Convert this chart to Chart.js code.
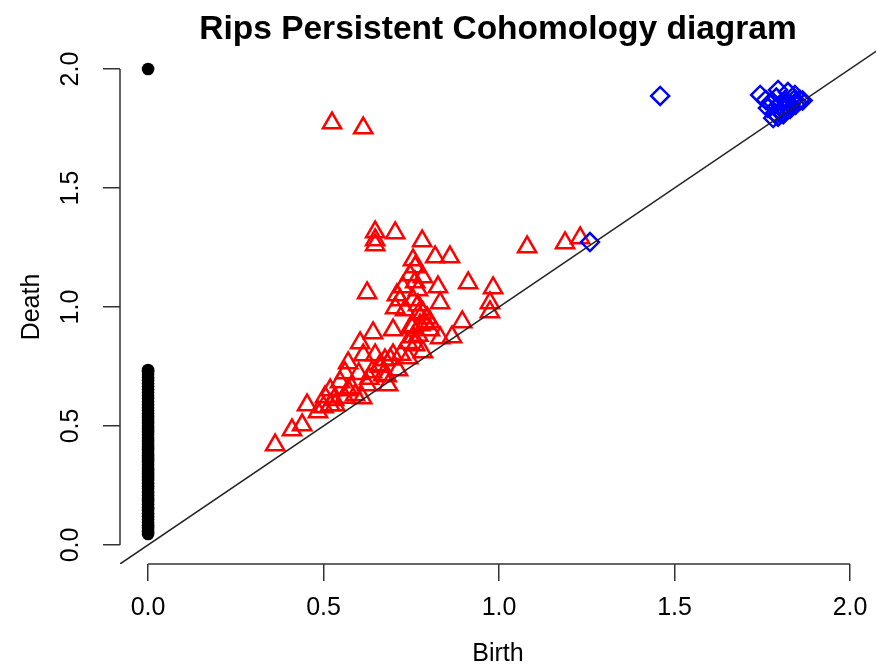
<!DOCTYPE html>
<html><head><meta charset="utf-8">
<script src="https://cdn.jsdelivr.net/npm/chart.js@4.4.1/dist/chart.umd.min.js"></script>
<style>html,body{margin:0;padding:0;background:#fff;}#wrap{width:876px;height:667px;}</style>
</head><body><div id="wrap"><canvas id="c" width="876" height="667"></canvas></div>
<script>
// ---- data ----
const chartTitle = 'Rips Persistent Cohomology diagram';
const xTitle = 'Birth';
const yTitle = 'Death';
const tickValues = [0, 0.5, 1.0, 1.5, 2.0];
const tickLabels = ['0.0', '0.5', '1.0', '1.5', '2.0'];

// dimension 0 (black dots), all born at 0
const dim0Birth = 0;
const dim0Death = [0.046, 0.058, 0.071, 0.083, 0.094, 0.108, 0.121, 0.133, 0.147, 0.158,
  0.171, 0.185, 0.196, 0.209, 0.222, 0.236, 0.247, 0.259, 0.273, 0.286, 0.298, 0.311,
  0.323, 0.337, 0.349, 0.361, 0.374, 0.388, 0.399, 0.412, 0.425, 0.437, 0.451, 0.463,
  0.475, 0.488, 0.501, 0.513, 0.526, 0.538, 0.552, 0.564, 0.577, 0.589, 0.602, 0.615,
  0.627, 0.641, 0.653, 0.666, 0.679, 0.692, 0.704, 0.716, 0.727, 0.735, 2.0];

// dimension 1 (red triangles)
const dim1Birth = [0.647, 0.647, 0.647, 0.704, 0.781, 0.755, 0.818, 0.860, 0.761, 0.783,
  0.761, 0.726, 0.826, 0.912, 0.624, 0.709, 0.755, 0.832, 0.704, 0.732,
  0.783, 0.795, 0.983, 0.974, 0.974, 0.895, 0.698, 0.752, 0.755, 0.641,
  0.604, 0.832, 0.866, 0.783, 0.741, 0.698, 0.675, 0.647, 0.613, 0.570,
  0.561, 0.670, 0.684, 0.624, 0.570, 0.519, 0.504, 0.533, 0.453, 0.484,
  0.610, 0.439, 0.410, 0.362, 0.524, 0.613, 1.080, 1.188, 1.231,
  0.547, 0.590, 0.519, 0.638, 0.712, 0.661, 0.761, 0.775, 0.803, 0.803,
  0.769, 0.746, 0.769, 0.718,
  0.580, 0.600, 0.630, 0.660, 0.690, 0.720, 0.740, 0.770, 0.790, 0.770,
  0.750, 0.680, 0.560, 0.530, 0.500];
const dim1Death = [1.315, 1.282, 1.261, 1.311, 1.277, 1.197, 1.210, 1.210, 1.168, 1.126,
  1.105, 1.084, 1.084, 1.101, 1.059, 1.050, 1.029, 1.017, 0.996, 0.987,
  0.975, 0.954, 1.080, 1.017, 0.979, 0.937, 0.903, 0.912, 0.874, 0.891,
  0.849, 0.870, 0.874, 0.811, 0.786, 0.798, 0.777, 0.798, 0.798, 0.765,
  0.723, 0.714, 0.672, 0.672, 0.651, 0.651, 0.622, 0.588, 0.588, 0.559,
  0.618, 0.504, 0.483, 0.420, 1.773, 1.752, 1.252, 1.269, 1.290,
  0.685, 0.630, 0.588, 0.727, 0.735, 0.756, 0.840, 0.924, 0.937, 0.903,
  1.008, 1.134, 1.071, 1.029,
  0.660, 0.720, 0.700, 0.750, 0.780, 0.800, 0.850, 0.880, 0.930, 0.970,
  0.920, 0.710, 0.620, 0.610, 0.580];

// dimension 2 (blue diamonds)
const dim2Birth = [1.259, 1.459, 1.744, 1.772, 1.795, 1.823, 1.843, 1.858, 1.809, 1.786,
  1.829, 1.795, 1.865, 1.766, 1.815, 1.845, 1.781,
  1.790, 1.800, 1.820, 1.830, 1.800, 1.820, 1.840, 1.850, 1.810, 1.780, 1.760];
const dim2Death = [1.273, 1.887, 1.891, 1.857, 1.912, 1.903, 1.891, 1.870, 1.836, 1.815,
  1.832, 1.800, 1.868, 1.836, 1.870, 1.850, 1.794,
  1.880, 1.850, 1.860, 1.850, 1.820, 1.840, 1.870, 1.860, 1.810, 1.860, 1.870];

// diagonal death = birth
const diagonalVals = [-0.08, 2.08];

// ---- build ----
const pts = (bx, dy) => dy.map((d, i) => ({x: Array.isArray(bx) ? bx[i] : bx, y: d}));

const axisLines = {
  id: 'axisLines',
  afterDraw(chart) {
    const {ctx, chartArea, scales: {x, y}} = chart;
    ctx.save();
    ctx.strokeStyle = '#333';
    ctx.lineWidth = 1.5;
    ctx.beginPath();
    ctx.moveTo(x.getPixelForValue(tickValues[0]), chartArea.bottom);
    ctx.lineTo(x.getPixelForValue(tickValues[tickValues.length - 1]), chartArea.bottom);
    ctx.moveTo(chartArea.left, y.getPixelForValue(tickValues[0]));
    ctx.lineTo(chartArea.left, y.getPixelForValue(tickValues[tickValues.length - 1]));
    ctx.stroke();
    ctx.restore();
  }
};

const font = 'Liberation Sans, Arial, Helvetica, sans-serif';

new Chart(document.getElementById('c'), {
  type: 'scatter',
  data: {
    datasets: [
      {
        label: 'diagonal',
        data: diagonalVals.map(v => ({x: v, y: v})),
        showLine: true,
        borderColor: '#222',
        borderWidth: 1.5,
        pointRadius: 0,
        fill: false
      },
      {
        label: 'dim2',
        data: pts(dim2Birth, dim2Death),
        pointStyle: 'rectRot',
        pointRadius: 9,
        backgroundColor: 'rgba(0,0,0,0)',
        borderColor: '#0000ff',
        borderWidth: 2.5
      },
      {
        label: 'dim1',
        data: pts(dim1Birth, dim1Death),
        pointStyle: 'triangle',
        pointRadius: 10.5,
        backgroundColor: 'rgba(0,0,0,0)',
        borderColor: '#ff0000',
        borderWidth: 2.5
      },
      {
        label: 'dim0',
        data: pts(dim0Birth, dim0Death),
        pointStyle: 'circle',
        pointRadius: 6.3,
        backgroundColor: '#000',
        borderColor: '#000',
        borderWidth: 0
      }
    ]
  },
  options: {
    responsive: false,
    animation: false,
    devicePixelRatio: 1,
    layout: {padding: 0, autoPadding: false},
    plugins: {
      legend: {display: false},
      tooltip: {enabled: false},
      title: {
        display: true,
        text: chartTitle,
        fullSize: false,
        color: '#000',
        font: {family: font, size: 33.5, weight: 'bold', lineHeight: 1.2},
        padding: {top: 10, bottom: -0.2}
      }
    },
    scales: {
      x: {
        type: 'linear',
        min: -0.08,
        max: 2.074,
        afterBuildTicks: s => { s.ticks = tickValues.map(v => ({value: v})); },
        afterFit: s => { s.height = 103; s.paddingLeft = 0; s.paddingRight = 0; },
        ticks: {
          callback: (v, i) => tickLabels[i],
          color: '#000',
          font: {family: font, size: 25},
          padding: 12,
          maxRotation: 0,
          autoSkip: false
        },
        grid: {drawOnChartArea: false, drawTicks: true, tickLength: 17, color: '#333', lineWidth: 1.5},
        border: {display: false},
        title: {display: true, text: xTitle, color: '#000', font: {family: font, size: 25}, padding: {top: 0, bottom: -2}}
      },
      y: {
        type: 'linear',
        min: -0.08,
        max: 2.08,
        afterBuildTicks: s => { s.ticks = tickValues.map(v => ({value: v})); },
        afterFit: s => { s.width = 120; s.paddingTop = 0; s.paddingBottom = 0; },
        ticks: {
          callback: (v, i) => tickLabels[i],
          color: '#000',
          font: {family: font, size: 25},
          padding: 15,
          minRotation: 90,
          maxRotation: 90,
          crossAlign: 'center',
          autoSkip: false
        },
        grid: {drawOnChartArea: false, drawTicks: true, tickLength: 17, color: '#333', lineWidth: 1.5},
        border: {display: false},
        title: {display: true, text: yTitle, color: '#000', font: {family: font, size: 25}, padding: {top: 17, bottom: 0}}
      }
    }
  },
  plugins: [axisLines]
});
</script></body></html>
